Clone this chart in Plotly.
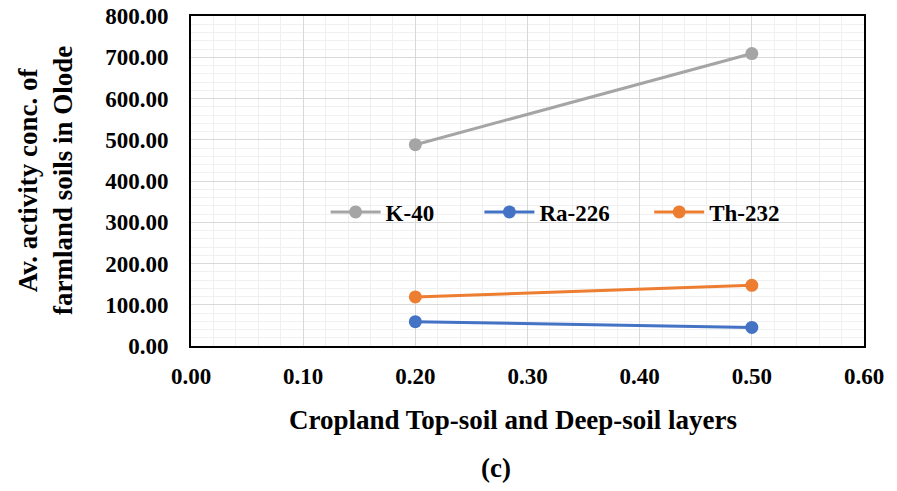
import plotly.graph_objects as go

layers = [0.20, 0.50]
k40 = [488, 709]
ra226 = [59, 45]
th232 = [119, 147]

x_ticks = [0.0, 0.1, 0.2, 0.3, 0.4, 0.5, 0.6]
y_ticks = [0, 100, 200, 300, 400, 500, 600, 700, 800]

series = [("K-40", k40, "#A5A5A5", 7), ("Ra-226", ra226, "#4472C4", 6), ("Th-232", th232, "#ED7D31", 0)]

FONT = "Liberation Serif"

fig = go.Figure()
for name, vals, col, pad in series:
    fig.add_trace(go.Scatter(
        x=layers, y=vals, name=name + "\u00a0" * pad, mode="lines+markers",
        line=dict(color=col, width=3),
        marker=dict(color=col, size=13),
    ))

L, R, T, B = 191, 33, 16, 145
W, H = 897, 491
pw, ph = W - L - R, H - T - B

fig.update_layout(
    width=W, height=H,
    margin=dict(l=L, r=R, t=T, b=B, autoexpand=False),
    paper_bgcolor="white", plot_bgcolor="white",
    font=dict(family=FONT, color="black", size=23, weight="bold"),
    showlegend=True,
    legend=dict(
        orientation="h", x=0.2, y=0.406, xanchor="left", yanchor="middle",
        bgcolor="rgba(0,0,0,0)", font=dict(family=FONT, size=23, color="black", weight="bold"),
        itemwidth=50,
    ),
    xaxis=dict(
        range=[0, 0.6], tickvals=x_ticks, ticktext=[f"{v:.2f}" for v in x_ticks],
        showgrid=True, gridcolor="#D9D9D9", gridwidth=1,
        minor=dict(dtick=0.02, showgrid=True, gridcolor="#F0F0F0", gridwidth=1),
        showline=True, linecolor="black", linewidth=2, mirror=True,
        zeroline=False, ticks="", ticklabelstandoff=8, automargin=False,
        tickfont=dict(family=FONT, size=23, color="black", weight="bold"),
    ),
    yaxis=dict(
        range=[0, 800], tickvals=y_ticks, ticktext=[f"{v:.2f}" for v in y_ticks],
        showgrid=True, gridcolor="#D9D9D9", gridwidth=1,
        minor=dict(dtick=20, showgrid=True, gridcolor="#F0F0F0", gridwidth=1),
        showline=True, linecolor="black", linewidth=2, mirror=True,
        zeroline=False, ticks="", ticklabelstandoff=16, automargin=False,
        tickfont=dict(family=FONT, size=23, color="black", weight="bold"),
    ),
)

def px_x(p):
    return (p - L) / pw

def px_y(p):
    return (H - B - p) / ph

fig.add_annotation(text="Cropland Top-soil and Deep-soil layers", xref="paper", yref="paper",
                   x=px_x(513), y=px_y(420), xanchor="center", yanchor="middle", showarrow=False,
                   font=dict(family=FONT, size=27, color="black", weight="bold"))
fig.add_annotation(text="Av. activity conc. of<br>farmland soils in Olode", xref="paper", yref="paper",
                   x=px_x(45), y=px_y(181), xanchor="center", yanchor="middle", showarrow=False,
                   textangle=-90,
                   font=dict(family=FONT, size=27, color="black", weight="bold"))
fig.add_annotation(text="(c)", xref="paper", yref="paper", x=px_x(496), y=px_y(468),
                   xanchor="center", yanchor="middle", showarrow=False,
                   font=dict(family=FONT, size=27, color="black", weight="bold"))

fig.write_html("out.html")
